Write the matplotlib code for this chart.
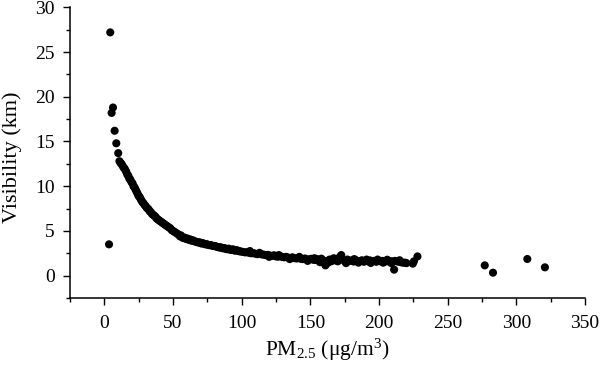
import matplotlib
matplotlib.use("Agg")
import matplotlib.pyplot as plt
from matplotlib.ticker import MultipleLocator

plt.rcParams['font.family'] = ['Liberation Serif', 'DejaVu Serif']
plt.rcParams['mathtext.fontset'] = 'custom'
plt.rcParams['mathtext.rm'] = 'Liberation Serif'
plt.rcParams['mathtext.it'] = 'Liberation Serif:italic'

# Main curve (PM2.5, visibility)
pm25_curve = [
    11.0, 11.8, 12.5, 13.2, 14.0, 14.6, 15.3, 16.0, 16.7, 17.4, 18.0, 18.7, 19.3, 20.0,
    20.6, 21.2, 21.9, 22.5, 23.1, 23.8, 24.4, 25.0, 25.7, 26.3, 27.0, 27.8, 28.5, 29.3,
    30.0, 30.8, 31.5, 32.3, 33.0, 33.9, 34.7, 35.5, 36.3, 37.2, 38.0, 38.9, 39.7, 40.6,
    41.5, 42.4, 43.3, 44.2, 45.1, 46.0, 47.0, 48.0, 49.0, 50.0, 51.0, 52.0, 53.0, 54.0,
    55.0, 55.8, 56.5, 57.5, 58.5, 59.5, 60.5, 61.5, 62.5, 63.5, 64.5, 65.5, 66.5, 67.5,
    68.5, 69.5, 70.5, 71.5, 72.5, 73.5, 74.5, 75.5, 76.5, 77.5, 78.5, 79.5, 80.5, 81.5,
    82.5, 83.5, 84.5, 85.5, 86.5, 87.5, 88.5, 89.5, 90.5, 91.5, 92.5, 93.5, 94.5, 95.5,
    96.5, 97.5, 98.5, 99.5, 101, 102.5, 104, 105.5, 107, 108.5, 110, 111.5, 113, 114.5,
    116, 117.5, 119, 120.5, 122, 123.5, 125, 126.5, 128, 129.5, 131, 132.5, 134, 135.5,
    137, 138.5, 140, 141.5, 143, 144.5, 146, 147.5, 149, 150.5, 152, 153.5, 155, 156.5,
    158, 159.5, 161, 162.5, 164, 165.5, 167, 168.5, 170, 171.5, 172.5, 174, 175.5, 177,
    178.5, 180, 181.5, 183, 184.5, 186, 187.5, 189, 190.5, 192, 193.5, 195, 196.5, 198,
    199.5, 201, 202.5, 204, 205.5, 207, 208.5, 210, 211.5, 213, 214.5, 216, 217.5, 219, 220,
    120, 135, 148, 157, 163, 176, 185, 194, 203, 209,
    106, 127, 142, 153, 168, 182, 191, 199, 206, 215,
]
vis_curve = [
    12.8, 12.6, 12.5, 12.3, 12.1, 12.0, 11.8, 11.6, 11.3, 11.2, 10.9, 10.8, 10.6, 10.4,
    10.3, 10.0, 9.9, 9.7, 9.5, 9.3, 9.1, 8.9, 8.8, 8.6, 8.4, 8.2, 8.1, 7.9,
    7.8, 7.6, 7.5, 7.4, 7.2, 7.1, 6.9, 6.8, 6.7, 6.6, 6.4, 6.3, 6.2, 6.1,
    6.0, 5.9, 5.8, 5.7, 5.6, 5.5, 5.4, 5.3, 5.1, 5.0, 4.9, 4.8, 4.7, 4.6,
    4.4, 4.5, 4.3, 4.2, 4.25, 4.1, 4.15, 4.0, 4.05, 3.9, 3.95, 3.85, 3.8, 3.75,
    3.7, 3.72, 3.6, 3.65, 3.55, 3.5, 3.52, 3.45, 3.4, 3.42, 3.35, 3.3, 3.32, 3.25,
    3.2, 3.15, 3.18, 3.1, 3.05, 3.08, 3.0, 2.95, 3.02, 2.9, 2.88, 2.95, 2.82, 2.8,
    2.85, 2.75, 2.72, 2.7, 2.65, 2.6, 2.62, 2.55, 2.5, 2.52, 2.45, 2.4, 2.55, 2.38,
    2.35, 2.3, 2.32, 2.25, 2.2, 2.28, 2.15, 2.12, 2.2, 2.08, 2.05, 2.1, 2.0, 1.98,
    2.05, 1.95, 1.92, 1.98, 1.88, 1.85, 1.92, 1.82, 1.8, 1.88, 1.78, 1.75, 1.85, 1.72,
    1.9, 1.7, 1.15, 1.65, 1.8, 1.62, 1.95, 1.7, 1.6, 2.1, 2.3, 1.75, 1.55, 1.8,
    1.65, 1.7, 1.58, 1.75, 1.62, 1.6, 1.72, 1.55, 1.68, 1.6, 1.7, 1.58, 1.65, 1.55,
    1.7, 1.6, 1.65, 1.55, 1.68, 1.58, 1.62, 1.55, 1.65, 1.6, 1.55, 1.5, 1.45, 1.45, 1.4,
    2.1, 1.85, 1.65, 1.5, 1.45, 1.4, 1.45, 1.42, 1.45, 1.4,
    2.75, 2.3, 2.1, 1.95, 1.85, 1.85, 1.8, 1.8, 1.78, 1.72,
]

# Isolated points
pm25_sparse = [4.3, 3.4, 5.3, 6.3, 7.5, 8.7, 10.1, 211, 224.6, 225.4, 228, 277, 283, 308, 320.8]
vis_sparse = [27.2, 3.5, 18.2, 18.8, 16.2, 14.8, 13.7, 0.67, 1.34, 1.6, 2.15, 1.15, 0.33, 1.86, 0.93]

x_ticks = [0, 50, 100, 150, 200, 250, 300, 350]
y_ticks = [0, 5, 10, 15, 20, 25, 30]

fig = plt.figure(figsize=(6.0, 3.67), dpi=100)
ax = fig.add_axes([0.1167, 0.188, 0.8583, 0.792])

ax.scatter(pm25_curve, vis_curve, s=34, color='black', edgecolors='none')
ax.scatter(pm25_sparse, vis_sparse, s=34, color='black', edgecolors='none')

ax.set_xlim(-25, 350)
ax.set_ylim(-2.5, 30)
ax.set_xticks(x_ticks)
ax.set_yticks(y_ticks)
ax.xaxis.set_minor_locator(MultipleLocator(25))
ax.yaxis.set_minor_locator(MultipleLocator(2.5))

for s in ['top', 'right']:
    ax.spines[s].set_visible(False)
for s in ['left', 'bottom']:
    ax.spines[s].set_linewidth(1.1)

ax.tick_params(which='major', direction='out', length=5, width=1.0, labelsize=14)
ax.tick_params(axis='y', which='major', pad=6)
ax.tick_params(axis='x', which='major', pad=7)
ax.tick_params(which='minor', direction='out', length=3, width=1.0)

ax.set_xlabel(r'PM$_{\mathrm{2.5}}$ (μg/m$^{\mathrm{3}}$)', fontsize=15.5, labelpad=4)
ax.set_ylabel('Visibility (km)', fontsize=16)
ax.yaxis.set_label_coords(-0.093, 0.485)

fig.savefig('out.png', dpi=100)
